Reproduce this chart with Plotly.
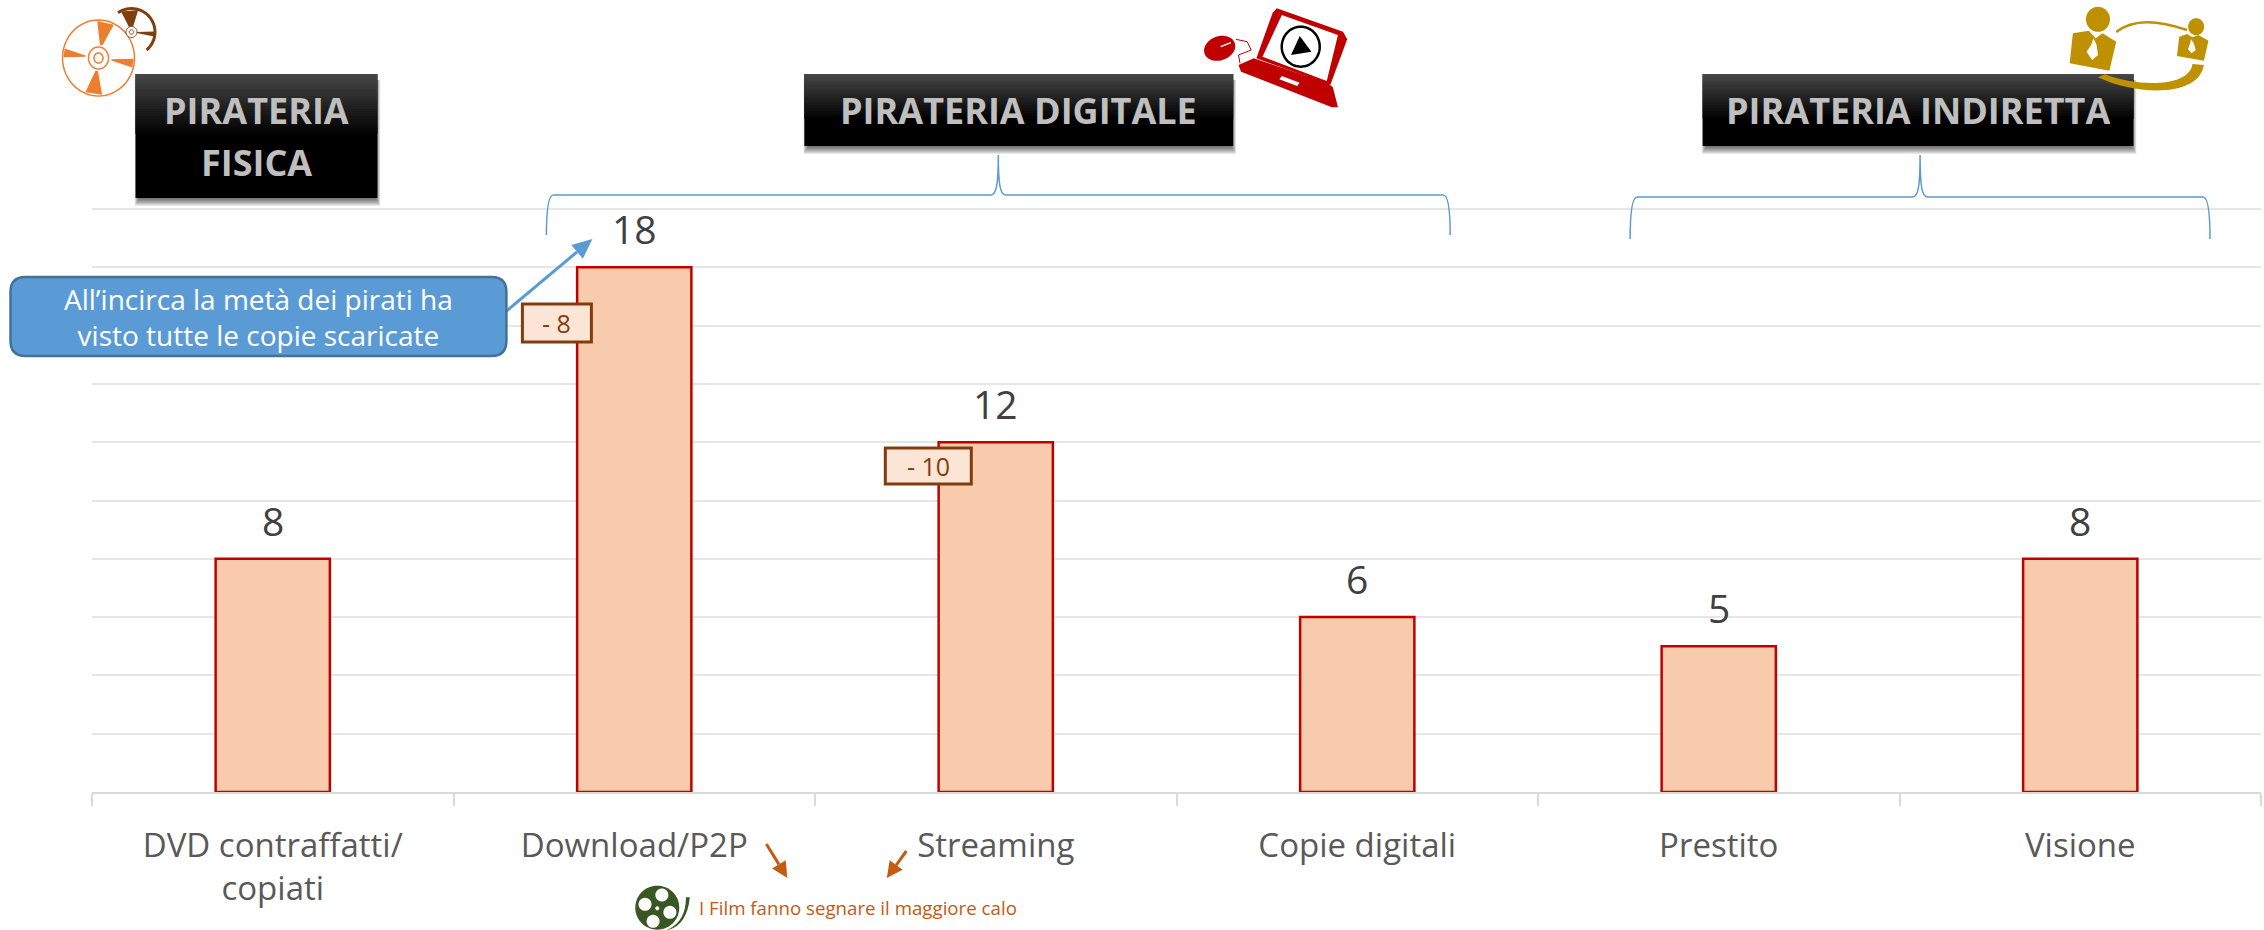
import math
import plotly.graph_objects as go

W, H = 2264, 930
L, R, T, B = 91.5, 2261, 206, 792
Y_TOP = 586 / 29.15

categories = ["DVD contraffatti/<br>copiati", "Download/P2P", "Streaming", "Copie digitali", "Prestito", "Visione"]
values = [8, 18, 12, 6, 5, 8]
banner_labels = ["PIRATERIA", "FISICA", "PIRATERIA DIGITALE", "PIRATERIA INDIRETTA"]
callout_text = "All’incirca la metà dei pirati ha<br>visto tutte le copie scaricate"
delta_labels = ["- 8", "- 10"]
note_text = "I Film fanno segnare il maggiore calo"

FONT = "Open Sans"
RED = "#C00000"; ORANGE = "#ED7D31"; BROWN = "#843C0C"; BLUE = "#5B9BD5"; GOLD = "#BF9000"; GREEN = "#385723"; NOTE = "#C55A11"


def px(x):
    return (x - L) / (R - L)


def py(y):
    return (B - y) / (B - T)


def P(x, y):
    return f"{px(x):.5f},{py(y):.5f}"


shapes = []


def add_path(d, fill=None, line=None, lw=0):
    s = dict(type="path", xref="paper", yref="paper", path=d, layer="above")
    s["fillcolor"] = fill if fill else "rgba(0,0,0,0)"
    s["line"] = dict(color=line if line else "rgba(0,0,0,0)", width=lw)
    shapes.append(s)


def poly(points, close=True):
    return "M" + " L".join(P(x, y) for x, y in points) + (" Z" if close else "")


def ellipse(cx, cy, rx, ry=None, rot=0, a0=0, a1=360, n=72, close=True):
    ry = ry if ry is not None else rx
    c, s = math.cos(math.radians(rot)), math.sin(math.radians(rot))
    pts = []
    for i in range(n + 1):
        a = math.radians(a0 + (a1 - a0) * i / n)
        x, y = rx * math.cos(a), -ry * math.sin(a)
        pts.append((cx + x * c - y * s, cy + x * s + y * c))
    return poly(pts, close)


def ring_band(cx, cy, r0, r1, a0, a1, n=30):
    o = [(cx + r1 * math.cos(math.radians(a0 + (a1 - a0) * i / n)), cy - r1 * math.sin(math.radians(a0 + (a1 - a0) * i / n))) for i in range(n + 1)]
    q = [(cx + r0 * math.cos(math.radians(a1 - (a1 - a0) * i / n)), cy - r0 * math.sin(math.radians(a1 - (a1 - a0) * i / n))) for i in range(n + 1)]
    return poly(o + q)


def round_rect(x0, y0, x1, y1, r):
    return (f"M{P(x0 + r, y0)} L{P(x1 - r, y0)} Q{P(x1, y0)} {P(x1, y0 + r)} L{P(x1, y1 - r)} Q{P(x1, y1)} {P(x1 - r, y1)} "
            f"L{P(x0 + r, y1)} Q{P(x0, y1)} {P(x0, y1 - r)} L{P(x0, y0 + r)} Q{P(x0, y0)} {P(x0 + r, y0)} Z")


def rect(x0, y0, x1, y1, fill, line=None, lw=0):
    add_path(poly([(x0, y0), (x1, y0), (x1, y1), (x0, y1)]), fill, line, lw)


def banner(x0, y0, x1, y1):
    # soft shadow: mostly below, with only a slight spill to the sides
    for i in range(8, 0, -1):
        rect(x0 + 4 - i * 0.6, y0 + 6, x1 - 2 + i * 0.6, y1 + i, "rgba(0,0,0,0.09)")
    rect(x0, y0, x1, y1, "#000000")
    ge = (y1 - y0) * (0.48 if (y1 - y0) > 100 else 0.62)
    n = 24
    for i in range(n):
        v = int(round(0x46 * (1 - i / n)))
        rect(x0, y0 + ge * i / n, x1, y0 + ge * (i + 1) / n + 0.6, f"rgb({v},{v},{v})")


def bracket(xl, xc, xr, yt, ytip, yb):
    d = (f"M{P(xl, yb)} C{P(xl, yt + 14)} {P(xl + 2, yt)} {P(xl + 7, yt)} L{P(xc - 7, yt)} "
         f"C{P(xc - 2, yt - 1)} {P(xc, yt - 10)} {P(xc, ytip)} C{P(xc, yt - 10)} {P(xc + 2, yt - 1)} {P(xc + 7, yt)} "
         f"L{P(xr - 7, yt)} C{P(xr - 2, yt)} {P(xr, yt + 14)} {P(xr, yb)}")
    add_path(d, None, BLUE, 1.5)


def arrow(x0, y0, x1, y1, color, lw, hl, hw):
    dx, dy = x1 - x0, y1 - y0
    n = math.hypot(dx, dy)
    ux, uy = dx / n, dy / n
    bx, by = x1 - ux * hl, y1 - uy * hl
    add_path(poly([(x0, y0), (bx, by)], False), None, color, lw)
    add_path(poly([(x1, y1), (bx - uy * hw, by + ux * hw), (bx + uy * hw, by - ux * hw)]), color)


# banners
banner(135, 74, 377, 198)
banner(804, 74, 1233, 146)
banner(1702.5, 74, 2133.5, 146)

# brackets
bracket(546, 998, 1450, 195, 155, 235)
bracket(1630, 1920, 2210, 197, 155, 239)

# callout + arrow
arrow(505, 312, 592, 239, BLUE, 3, 20, 9)
add_path(round_rect(10, 277, 506, 356, 15), BLUE, "#41719C", 2.5)

# delta boxes
rect(522, 304, 591, 342, "#FBE5D6", BROWN, 3)
rect(885, 448, 971, 484, "#FBE5D6", BROWN, 3)

# orange arrows
arrow(766, 844, 787, 878, NOTE, 3, 16, 8)
arrow(906, 851, 886.5, 878, NOTE, 3, 16, 8)

# CD icon (orange)
cx, cy = 98, 58
add_path(ellipse(cx, cy, 36, 38), None, ORANGE, 1.5)
for ang, hw_deg in ((78, 14), (172, 7), (262, 14), (352, 7)):
    a0, a1 = math.radians(ang - hw_deg), math.radians(ang + hw_deg)
    b0, b1 = math.radians(ang - hw_deg * 0.4), math.radians(ang + hw_deg * 0.4)
    add_path(poly([(cx + 35 * math.cos(a0), cy - 37 * math.sin(a0)), (cx + 35 * math.cos(a1), cy - 37 * math.sin(a1)),
                   (cx + 13 * math.cos(b1), cy - 13 * math.sin(b1)), (cx + 13 * math.cos(b0), cy - 13 * math.sin(b0))]), ORANGE)
add_path(ellipse(cx, cy, 10, 11), None, ORANGE, 1.5)
add_path(ellipse(cx, cy, 4.5, 5), None, ORANGE, 1.5)

# CD icon (brown, behind)
bx, by = 131, 32
DB = "#7F3F0F"
add_path(ring_band(bx, by, 22, 25, -50, 125), DB)
for ang, hw_deg in ((95, 22), (-5, 6)):
    a0, a1 = math.radians(ang - hw_deg), math.radians(ang + hw_deg)
    add_path(poly([(bx + 23 * math.cos(a0), by - 23 * math.sin(a0)), (bx + 23 * math.cos(a1), by - 23 * math.sin(a1)),
                   (bx + 5 * math.cos(a1), by - 5 * math.sin(a1)), (bx + 5 * math.cos(a0), by - 5 * math.sin(a0))]), DB)
add_path(ellipse(bx, by, 5.5), "#FFFFFF", DB, 1)
add_path(ellipse(bx, by, 2.2), None, DB, 1)

# laptop icon
def lz(x, y):
    return (700 + x / 1.96, y / 3)


add_path(poly([lz(*p) for p in [(1130, 25), (1260, 95), (1268, 118), (1235, 255), (1090, 175), (1122, 38)]]), RED)
add_path(poly([lz(*p) for p in [(1140, 45), (1250, 105), (1228, 243), (1102, 170)]]), "#FFFFFF")
add_path(poly([lz(*p) for p in [(1085, 175), (1230, 250), (1240, 262), (1250, 322), (1238, 322), (1060, 215), (1055, 195)]]), RED)
add_path(poly([lz(*p) for p in [(1140, 228), (1175, 248), (1170, 258), (1135, 238)]]), "#FFFFFF")
add_path(ellipse(*lz(1177, 140), 19, 20), "#FFFFFF", "#000000", 2.5)
add_path(poly([lz(*p) for p in [(1175, 108), (1198, 155), (1158, 165)]]), "#000000")
add_path(ellipse(*lz(1018, 145), 16, 12, rot=-20), RED)
add_path(poly([lz(*p) for p in [(1020, 140), (1040, 128)]], False), None, "#FFFFFF", 1.5)
add_path(poly([lz(*p) for p in [(1050, 118), (1072, 125), (1080, 150), (1055, 165), (1058, 190)]], False), None, RED, 1)

# people icon
def pz(x, y):
    return (1550 + x / 2.19, y / 3)


add_path(ellipse(*pz(1200, 58), 12, 12.5), GOLD)
add_path(poly([pz(*p) for p in [(1145, 100), (1180, 92), (1195, 115), (1210, 100), (1240, 125), (1225, 212), (1138, 190)]]), GOLD)
add_path(poly([pz(*p) for p in [(1190, 115), (1197, 135), (1200, 165), (1187, 180), (1175, 155), (1185, 135)]]), "#FFFFFF")
add_path(ellipse(*pz(1415, 80), 8, 8.5), GOLD)
add_path(poly([pz(*p) for p in [(1378, 110), (1395, 102), (1407, 112), (1420, 105), (1442, 122), (1432, 182), (1373, 168)]]), GOLD)
add_path(poly([pz(*p) for p in [(1404, 118), (1410, 130), (1414, 150), (1405, 160), (1397, 148), (1402, 130)]]), "#FFFFFF")
add_path(f"M{P(*pz(1240, 96))} Q{P(*pz(1290, 40))} {P(*pz(1395, 90))}", None, GOLD, 2.5)
add_path(f"M{P(*pz(1200, 232))} C{P(*pz(1280, 285))} {P(*pz(1420, 295))} {P(*pz(1432, 195))} L{P(*pz(1407, 192))} "
         f"C{P(*pz(1400, 262))} {P(*pz(1290, 262))} {P(*pz(1215, 223))} Z", GOLD)

# film reel icon
def fz(x, y):
    return (500 + x / 2.613, 760 + y / 3)


add_path(f"M{P(*fz(440, 508))} C{P(*fz(470, 490))} {P(*fz(485, 460))} {P(*fz(485, 412))} L{P(*fz(495, 412))} "
         f"C{P(*fz(490, 470))} {P(*fz(470, 505))} {P(*fz(430, 512))} Z", GREEN)
add_path(ellipse(*fz(410, 443), 22, 22), GREEN)
for hx, hy in [(422, 405), (378, 433), (443, 457), (399, 484)]:
    add_path(ellipse(*fz(hx, hy), 6.5, 6.5), "#FFFFFF")
add_path(ellipse(*fz(410, 445), 2, 2), "#FFFFFF")

annotations = []


def label(x, y, text, size, color, bold=False):
    annotations.append(dict(xref="paper", yref="paper", x=px(x), y=py(y), text=f"<b>{text}</b>" if bold else text, showarrow=False,
                            xanchor="center", yanchor="middle", align="center",
                            font=dict(family=FONT, size=size, color=color)))


label(256, 111, banner_labels[0], 36, "#BFBFBF", True)
label(256, 162, banner_labels[1], 36, "#BFBFBF", True)
label(1018.5, 110, banner_labels[2], 36, "#BFBFBF", True)
label(1918, 110, banner_labels[3], 36, "#BFBFBF", True)
label(258, 317, callout_text, 28, "#FFFFFF")
label(556.5, 323, delta_labels[0], 25, BROWN)
label(928, 466, delta_labels[1], 25, BROWN)
label(857.5, 907, note_text, 18.7, NOTE)

for c, v in zip(categories, values):
    annotations.append(dict(x=c, y=v, xref="x", yref="y", text=str(v), showarrow=False, xanchor="center", yanchor="bottom",
                            yshift=10, font=dict(family=FONT, size=39, color="#404040")))

fig = go.Figure(go.Bar(x=categories, y=values, marker=dict(color="#F7CBAC", line=dict(color=RED, width=2.5)), hoverinfo="skip"))
fig.update_layout(
    width=W, height=H, autosize=False, showlegend=False, bargap=0.684,
    paper_bgcolor="#FFFFFF", plot_bgcolor="#FFFFFF",
    margin=dict(l=L, r=W - R, t=T, b=H - B, pad=0),
    shapes=shapes, annotations=annotations,
    font=dict(family=FONT),
    xaxis=dict(type="category", tickson="boundaries", ticks="outside", ticklen=12, tickwidth=2, tickcolor="#D9D9D9",
               showline=True, linecolor="#D9D9D9", linewidth=2, showgrid=False, zeroline=False,
               tickfont=dict(family=FONT, size=33, color="#595959"), ticklabelstandoff=23, automargin=False),
    yaxis=dict(range=[0, Y_TOP], dtick=2, tick0=0, showticklabels=False, ticks="", showgrid=True, gridcolor="#E7E6E6", gridwidth=2,
               zeroline=False, showline=False, automargin=False),
)
fig.write_html("out.html", post_script="document.body.style.margin='0';", config=dict(displayModeBar=False))
